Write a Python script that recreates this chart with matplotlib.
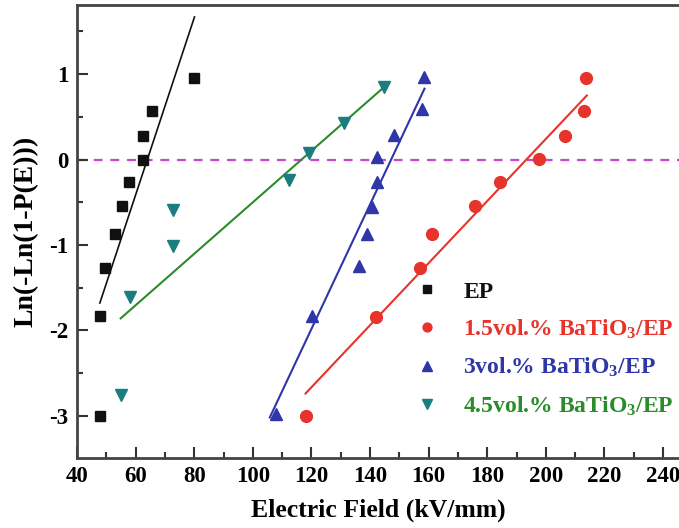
import matplotlib
matplotlib.use("Agg")
import matplotlib.pyplot as plt
from matplotlib.ticker import MultipleLocator
import numpy as np

plt.rcParams['font.family'] = ['Liberation Serif', 'DejaVu Serif']
plt.rcParams['font.weight'] = 'bold'
plt.rcParams['mathtext.fontset'] = 'custom'
plt.rcParams['mathtext.rm'] = 'Liberation Serif:bold'
plt.rcParams['mathtext.default'] = 'rm'
plt.rcParams['axes.unicode_minus'] = False

# ---- data ----
ep_x = [48, 48, 49.5, 53, 55.3, 57.6, 62.6, 62.6, 65.6, 80.1]
ep_y = [-3.00, -1.83, -1.27, -0.87, -0.54, -0.26, 0.00, 0.28, 0.57, 0.96]
ep_fit_x = [47.8, 80.1]
ep_fit_y = [-1.68, 1.67]

b15_x = [118.0, 141.9, 156.9, 161.3, 175.8, 184.3, 197.8, 206.4, 213.0, 213.6]
b15_y = [-3.00, -1.84, -1.27, -0.87, -0.54, -0.26, 0.01, 0.28, 0.57, 0.96]
b15_fit_x = [118.0, 214.0]
b15_fit_y = [-2.74, 0.75]

b30_x = [107.8, 120.3, 136.4, 139.1, 140.8, 142.3, 142.3, 148.2, 157.8, 158.4]
b30_y = [-2.98, -1.83, -1.25, -0.87, -0.55, -0.26, 0.03, 0.29, 0.59, 0.97]
b30_fit_x = [105.8, 158.6]
b30_fit_y = [-3.02, 0.83]

b45_x = [55.1, 58.1, 72.7, 72.7, 112.3, 119.1, 131.1, 144.7]
b45_y = [-2.76, -1.61, -1.01, -0.59, -0.24, 0.08, 0.43, 0.85]
b45_fit_x = [54.9, 146.5]
b45_fit_y = [-1.86, 0.90]

labels = ['EP', '1.5vol.% BaTiO$_3$/EP', '3vol.% BaTiO$_3$/EP', '4.5vol.% BaTiO$_3$/EP']
x_ticks = [40, 60, 80, 100, 120, 140, 160, 180, 200, 220, 240]
y_ticks = [-3, -2, -1, 0, 1]

c_black = '#111111'
c_red = '#e8332b'
c_blue = '#2e36a8'
c_teal = '#1b7e7e'
c_green = '#2a8c2a'

fig = plt.figure(figsize=(6.79, 5.28), dpi=100)
ax = fig.add_axes([77/679, 70/528, 602/679, 453/528])

ax.axhline(0, color='#cc44cc', lw=1.6, ls=(0, (4, 3.5)), zorder=1)

ax.plot(ep_fit_x, ep_fit_y, color=c_black, lw=1.2, zorder=2)
ax.plot(b15_fit_x, b15_fit_y, color=c_red, lw=1.5, zorder=2)
ax.plot(b30_fit_x, b30_fit_y, color=c_blue, lw=1.5, zorder=2)
ax.plot(b45_fit_x, b45_fit_y, color=c_green, lw=1.5, zorder=2)

h1, = ax.plot(ep_x, ep_y, 's', color=c_black, ms=7.5, ls='none', zorder=3)
h2, = ax.plot(b15_x, b15_y, 'o', color=c_red, ms=8.5, ls='none', zorder=3)
h3, = ax.plot(b30_x, b30_y, '^', color=c_blue, ms=9, ls='none', zorder=3)
h4, = ax.plot(b45_x, b45_y, 'v', color=c_teal, ms=9, ls='none', zorder=3)

ax.set_xlim(40, 40 + 602/2.93)
ax.set_ylim(-3.495, 1.81)
ax.set_xticks(x_ticks)
ax.set_yticks(y_ticks)
ax.xaxis.set_minor_locator(MultipleLocator(10))
ax.yaxis.set_minor_locator(MultipleLocator(0.5))
ax.tick_params(which='both', direction='in', top=False, right=False, labelsize=16.5, width=1.5, color='#333333')
ax.tick_params(which='major', length=8, pad=6)
ax.tick_params(which='minor', length=4)
for lab in ax.get_xticklabels() + ax.get_yticklabels():
    lab.set_fontweight('bold')

for s in ['left', 'bottom', 'top']:
    ax.spines[s].set_linewidth(2)
    ax.spines[s].set_color('#444444')
ax.spines['right'].set_visible(False)

ax.set_xlabel('Electric Field (kV/mm)', fontsize=18.5, fontweight='bold', labelpad=8)
ax.set_ylabel('Ln(-Ln(1-P(E)))', fontsize=20, fontweight='bold', labelpad=8)

leg = fig.legend([h1, h2, h3, h4], labels, loc='upper left',
                 bbox_to_anchor=(416/679, 1 - 281/528), frameon=False,
                 fontsize=17, handlelength=0.95, handletextpad=1.05,
                 labelspacing=0.64, borderpad=0, borderaxespad=0,
                 labelcolor=[c_black, c_red, c_blue, c_green], markerscale=0.75)

fig.savefig('out.png', dpi=100)
